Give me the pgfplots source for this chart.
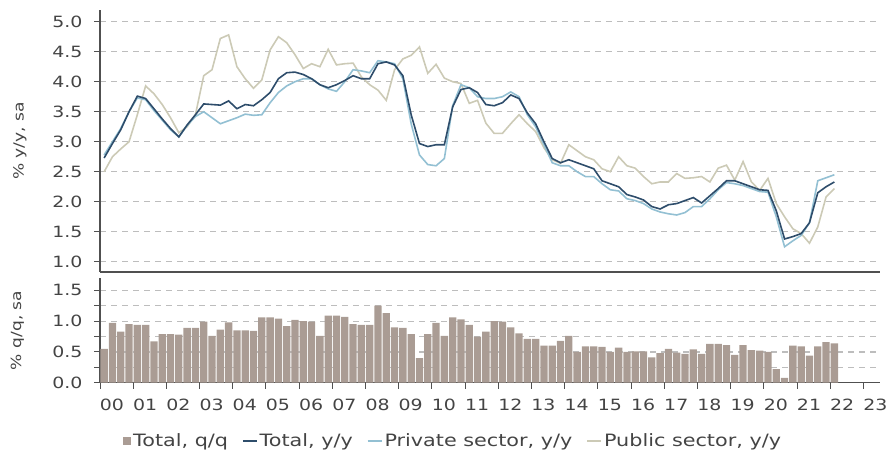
\documentclass[border=0pt]{standalone}
\usepackage{fontspec}
\setmainfont{DejaVu Sans}[FakeStretch=1.22]
\usepackage{pgfplots}
\pgfplotsset{compat=1.18}
\usepackage{pgfplotstable}
\definecolor{barc}{HTML}{AA9C94}
\definecolor{totc}{HTML}{2E4D6B}
\definecolor{privc}{HTML}{93C0D3}
\definecolor{pubc}{HTML}{CCCAB6}
\definecolor{gridc}{HTML}{BDBDBD}
\definecolor{axc}{HTML}{505050}
\definecolor{txtc}{HTML}{444444}

\pgfplotstableread{
t bar tot priv pub
2000.125 0.55 2.73 2.78 2.50
2000.375 0.97 2.97 3.00 2.75
2000.625 0.83 3.20 3.22 2.88
2000.875 0.95 3.50 3.50 3.00
2001.125 0.94 3.76 3.73 3.45
2001.375 0.94 3.72 3.70 3.93
2001.625 0.67 3.55 3.52 3.80
2001.875 0.79 3.38 3.36 3.62
2002.125 0.79 3.22 3.20 3.40
2002.375 0.78 3.08 3.08 3.15
2002.625 0.89 3.28 3.27 3.25
2002.875 0.89 3.45 3.42 3.45
2003.125 0.99 3.63 3.50 4.10
2003.375 0.76 3.62 3.40 4.20
2003.625 0.86 3.61 3.30 4.72
2003.875 0.98 3.68 3.35 4.78
2004.125 0.85 3.55 3.40 4.25
2004.375 0.85 3.62 3.46 4.05
2004.625 0.84 3.60 3.44 3.89
2004.875 1.06 3.70 3.45 4.03
2005.125 1.06 3.82 3.65 4.53
2005.375 1.04 4.05 3.82 4.75
2005.625 0.92 4.15 3.93 4.65
2005.875 1.02 4.16 4.00 4.45
2006.125 1.00 4.12 4.05 4.22
2006.375 0.99 4.05 4.05 4.30
2006.625 0.76 3.95 3.95 4.25
2006.875 1.09 3.90 3.88 4.54
2007.125 1.09 3.95 3.84 4.28
2007.375 1.07 4.02 4.00 4.30
2007.625 0.95 4.10 4.20 4.31
2007.875 0.94 4.05 4.18 4.08
2008.125 0.94 4.05 4.15 3.95
2008.375 1.25 4.30 4.35 3.86
2008.625 1.13 4.33 4.33 3.69
2008.875 0.90 4.28 4.30 4.20
2009.125 0.89 4.10 4.05 4.38
2009.375 0.79 3.45 3.30 4.44
2009.625 0.40 2.97 2.78 4.58
2009.875 0.79 2.92 2.62 4.14
2010.125 0.97 2.95 2.60 4.29
2010.375 0.76 2.95 2.72 4.06
2010.625 1.06 3.58 3.60 4.00
2010.875 1.03 3.87 3.95 3.97
2011.125 0.94 3.90 3.90 3.64
2011.375 0.75 3.82 3.75 3.69
2011.625 0.83 3.62 3.72 3.31
2011.875 1.00 3.60 3.72 3.14
2012.125 0.99 3.65 3.75 3.14
2012.375 0.90 3.78 3.83 3.30
2012.625 0.80 3.72 3.75 3.45
2012.875 0.71 3.48 3.45 3.30
2013.125 0.71 3.30 3.25 3.17
2013.375 0.60 3.00 2.95 2.90
2013.625 0.60 2.72 2.65 2.70
2013.875 0.68 2.65 2.60 2.64
2014.125 0.76 2.70 2.60 2.95
2014.375 0.50 2.65 2.50 2.85
2014.625 0.59 2.60 2.42 2.75
2014.875 0.59 2.55 2.42 2.70
2015.125 0.58 2.35 2.30 2.55
2015.375 0.50 2.30 2.20 2.50
2015.625 0.57 2.25 2.18 2.75
2015.875 0.50 2.12 2.05 2.60
2016.125 0.51 2.08 2.02 2.56
2016.375 0.51 2.03 1.97 2.42
2016.625 0.41 1.92 1.88 2.30
2016.875 0.48 1.88 1.83 2.33
2017.125 0.55 1.95 1.80 2.33
2017.375 0.49 1.97 1.78 2.47
2017.625 0.47 2.02 1.82 2.39
2017.875 0.54 2.07 1.92 2.40
2018.125 0.47 1.98 1.92 2.42
2018.375 0.63 2.10 2.05 2.33
2018.625 0.63 2.22 2.20 2.56
2018.875 0.61 2.35 2.32 2.61
2019.125 0.45 2.35 2.30 2.36
2019.375 0.61 2.30 2.27 2.67
2019.625 0.53 2.25 2.22 2.33
2019.875 0.52 2.20 2.17 2.19
2020.125 0.50 2.19 2.16 2.39
2020.375 0.22 1.85 1.75 1.97
2020.625 0.08 1.38 1.25 1.75
2020.875 0.60 1.42 1.35 1.55
2021.125 0.59 1.47 1.44 1.47
2021.375 0.44 1.65 1.65 1.31
2021.625 0.59 2.15 2.35 1.58
2021.875 0.66 2.25 2.40 2.08
2022.125 0.64 2.33 2.45 2.22
}\datatab

\pgfplotsset{
  legline/.style={legend image code/.code={\draw[##1] (0bp,0bp) -- (14bp,0bp);}},
  legbar/.style={legend image code/.code={\fill[barc] (0bp,-3.5bp) rectangle (8bp,4bp);}},
  common/.style={
    scale only axis, width=780bp,
    xmin=2000, xmax=2023.5,
    axis lines*=left,
    axis line style={-, draw=axc, line width=1.2bp},
    tick style={draw=axc, line width=1bp},
    tick align=outside,
    major tick length=6bp, minor tick length=6bp,
    ymajorgrids,
    grid style={draw=gridc, line width=1.2bp, dash pattern=on 6bp off 5bp},
    minor grid style={draw=gridc, line width=1.2bp, dash pattern=on 6bp off 5bp},
    tick label style={font=\fontsize{15.5bp}{18bp}\selectfont, text=txtc},
    /pgf/number format/.cd, fixed, fixed zerofill, precision=1, assume math mode=true,
    /pgfplots/.cd,
    yticklabel style={xshift=-8bp},
  },
}

\begin{document}
\begin{tikzpicture}
\path[use as bounding box] (0bp,0bp) rectangle (886bp,452bp);

% top panel
\begin{axis}[common,
  at={(100bp,180bp)}, anchor=south west, height=262bp,
  ymin=0.83, ymax=5.195,
  xtick=\empty,
  ytick={1,1.5,2,2.5,3,3.5,4,4.5,5},
  x axis line style={line width=1.6bp},
  ylabel={\% y/y, sa},
  ylabel style={at={(axis description cs:-0.1026,0.5)}, anchor=center, rotate=0,
    font=\fontsize{14bp}{16bp}\selectfont, text=txtc},
]
\addplot[pubc, line width=1.6bp] table[x=t, y=pub] {\datatab};
\addplot[privc, line width=1.6bp] table[x=t, y=priv] {\datatab};
\addplot[totc, line width=1.6bp] table[x=t, y=tot] {\datatab};
\end{axis}

% bottom panel
\begin{axis}[common,
  at={(100bp,69.3bp)}, anchor=south west, height=104.7bp,
  ymin=0, ymax=1.7,
  ytick={0,0.5,1,1.5},
  minor ytick={0.25,0.75,1.25},
  yminorgrids,
  xtick={2000,2001,...,2023},
  xticklabels={00,01,02,03,04,05,06,07,08,09,10,11,12,13,14,15,16,17,18,19,20,21,22,23},
  xticklabel style={xshift=12bp, yshift=-7bp},
  ylabel={\% q/q, sa},
  ylabel style={at={(axis description cs:-0.106,0.5)}, anchor=center, rotate=0,
    font=\fontsize{14bp}{16bp}\selectfont, text=txtc},
  legend style={at={(axis description cs:0.0295,-0.557)}, anchor=west, draw=none, fill=none,
    font=\fontsize{17bp}{19bp}\selectfont, text=txtc,
    legend columns=-1,
    nodes={inner xsep=2bp},
    /tikz/every even column/.append style={column sep=12bp},
    inner sep=0pt},
  legend cell align=left,
]
\addplot[ybar, bar width=0.22, fill=barc, draw=none, legbar]
  table[x=t, y=bar] {\datatab};
\addlegendentry{Total, q/q}
\addlegendimage{totc, line width=1.6bp, legline}
\addlegendentry{Total, y/y}
\addlegendimage{privc, line width=1.6bp, legline}
\addlegendentry{Private sector, y/y}
\addlegendimage{pubc, line width=1.6bp, legline}
\addlegendentry{Public sector, y/y}
\end{axis}
\end{tikzpicture}
\end{document}
